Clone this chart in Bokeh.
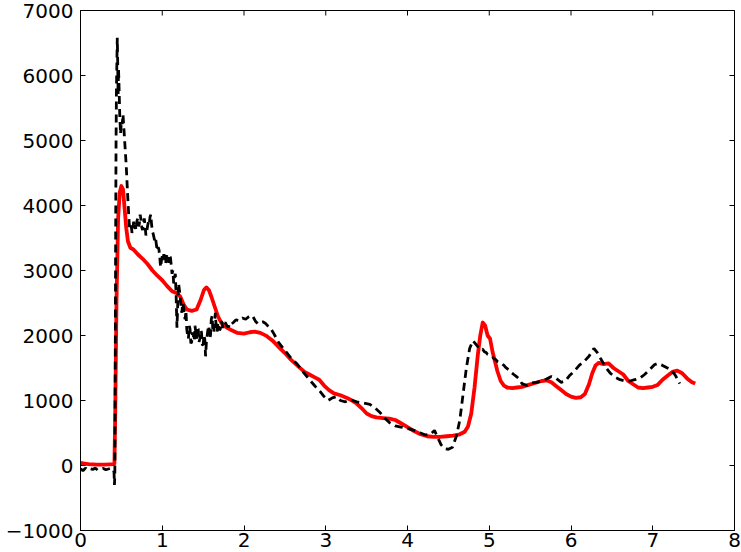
from math import pi
from bokeh.plotting import figure
from bokeh.models import FixedTicker, Range1d
from bokeh.embed import file_html
from bokeh.resources import INLINE

# Red solid series (x, y)
red_x = [0.00, 0.05, 0.10, 0.20, 0.30, 0.40, 0.415, 0.425, 0.44, 0.46, 0.48, 0.50, 0.52, 0.54, 0.56, 0.58,
         0.61, 0.65, 0.70, 0.76, 0.82, 0.88, 0.94, 1.00, 1.06, 1.12, 1.18, 1.22, 1.26, 1.30, 1.36, 1.42,
         1.47, 1.51, 1.54, 1.57, 1.60, 1.64, 1.68, 1.72, 1.78, 1.85, 1.92, 2.00, 2.07, 2.13, 2.20, 2.28,
         2.35, 2.42, 2.50, 2.58, 2.66, 2.74, 2.80, 2.86, 2.92, 2.98, 3.04, 3.10, 3.18, 3.26, 3.32, 3.38,
         3.44, 3.50, 3.56, 3.62, 3.70, 3.78, 3.85, 3.92, 4.00, 4.08, 4.16, 4.24, 4.32, 4.40, 4.48, 4.56,
         4.64, 4.70, 4.74, 4.78, 4.82, 4.86, 4.89, 4.92, 4.95, 4.98, 5.01, 5.04, 5.07, 5.10, 5.14, 5.18,
         5.22, 5.28, 5.34, 5.40, 5.48, 5.56, 5.64, 5.70, 5.76, 5.82, 5.88, 5.94, 6.00, 6.06, 6.12, 6.17,
         6.22, 6.26, 6.30, 6.34, 6.40, 6.46, 6.52, 6.58, 6.64, 6.70, 6.76, 6.82, 6.88, 6.94, 7.00, 7.06,
         7.12, 7.18, 7.24, 7.30, 7.36, 7.42, 7.48, 7.52]
red_y = [40, 30, 20, 15, 15, 20, 30, 800, 2500, 3800, 4200, 4300, 4250, 3950, 3650, 3450,
         3350, 3320, 3250, 3180, 3100, 3000, 2920, 2850, 2760, 2680, 2650, 2600, 2480, 2400, 2380, 2400,
         2550, 2700, 2740, 2700, 2600, 2450, 2300, 2200, 2130, 2080, 2040, 2030, 2050, 2060, 2040, 1990,
         1920, 1830, 1730, 1620, 1530, 1440, 1400, 1360, 1320, 1230, 1160, 1110, 1080, 1040, 1000, 950,
         880, 800, 760, 740, 730, 720, 700, 650, 590, 530, 480, 450, 440, 440, 450, 460,
         480, 520, 600, 800, 1200, 1700, 2000, 2200, 2150, 2000, 1950, 1750, 1600, 1450, 1300, 1230,
         1200, 1190, 1200, 1210, 1240, 1270, 1300, 1310, 1280, 1220, 1160, 1100, 1060, 1040, 1050, 1100,
         1250, 1420, 1540, 1580, 1560, 1570, 1500, 1450, 1400, 1300, 1250, 1200, 1190, 1200, 1210, 1240,
         1320, 1380, 1440, 1460, 1420, 1340, 1280, 1260]

# Black dashed series (x, y)
black_x = [0.00, 0.03, 0.06, 0.09, 0.12, 0.15, 0.18, 0.21, 0.25, 0.28, 0.31, 0.35, 0.38, 0.40, 0.41, 0.415,
           0.42, 0.425, 0.43, 0.435, 0.44, 0.45, 0.455, 0.46, 0.465, 0.47, 0.48, 0.49, 0.50, 0.51, 0.52, 0.53,
           0.545, 0.56, 0.575, 0.59, 0.60, 0.62, 0.63, 0.64, 0.65, 0.66, 0.67, 0.68, 0.69, 0.70, 0.71, 0.72,
           0.73, 0.74, 0.75, 0.76, 0.77, 0.78, 0.79, 0.80, 0.81, 0.82, 0.83, 0.84, 0.85, 0.86, 0.87, 0.88,
           0.89, 0.90, 0.91, 0.92, 0.93, 0.94, 0.95, 0.96, 0.97, 0.98, 0.99, 1.00, 1.01, 1.02, 1.03, 1.04,
           1.05, 1.06, 1.07, 1.08, 1.09, 1.10, 1.11, 1.12, 1.13, 1.14, 1.15, 1.16, 1.17, 1.18, 1.19, 1.20,
           1.21, 1.22, 1.23, 1.24, 1.25, 1.26, 1.27, 1.28, 1.29, 1.30, 1.31, 1.32, 1.33, 1.34, 1.35, 1.36,
           1.37, 1.38, 1.39, 1.40, 1.41, 1.42, 1.43, 1.44, 1.45, 1.46, 1.47, 1.48, 1.49, 1.50, 1.51, 1.52,
           1.53, 1.54, 1.55, 1.56, 1.57, 1.58, 1.59, 1.60, 1.61, 1.62, 1.63, 1.64, 1.65, 1.66, 1.67, 1.68,
           1.69, 1.70, 1.71, 1.72, 1.73, 1.74, 1.75, 1.77, 1.79, 1.81, 1.83, 1.85, 1.87, 1.90, 1.94, 1.98,
           2.02, 2.06, 2.09, 2.11, 2.14, 2.17, 2.20, 2.23, 2.26, 2.29, 2.32, 2.36, 2.42, 2.50, 2.57, 2.65,
           2.73, 2.80, 2.87, 2.93, 2.98, 3.03, 3.08, 3.13, 3.18, 3.24, 3.30, 3.38, 3.46, 3.54, 3.60, 3.66,
           3.72, 3.78, 3.85, 3.92, 4.00, 4.08, 4.16, 4.22, 4.28, 4.33, 4.37, 4.41, 4.45, 4.50, 4.55, 4.60,
           4.64, 4.68, 4.72, 4.76, 4.80, 4.82, 4.84, 4.86, 4.88, 4.90, 4.92, 4.94, 4.96, 4.98, 5.00, 5.02,
           5.04, 5.06, 5.08, 5.10, 5.12, 5.14, 5.16, 5.18, 5.20, 5.22, 5.24, 5.26, 5.28, 5.30, 5.33, 5.36,
           5.40, 5.46, 5.52, 5.58, 5.64, 5.70, 5.76, 5.82, 5.88, 5.93, 5.98, 6.04, 6.10, 6.16, 6.22, 6.28,
           6.32, 6.36, 6.42, 6.48, 6.54, 6.60, 6.66, 6.72, 6.78, 6.84, 6.90, 6.96, 7.02, 7.06, 7.12, 7.18,
           7.24, 7.28, 7.33]
black_y = [-50, -80, -40, -70, -50, -60, -40, -70, -55, -45, -65, -50, -40, -60, -100, -300,
           -150, 1500, 3500, 5000, 5800, 6580, 6200, 5700, 6100, 5900, 5400, 5100, 5300, 5250, 5400, 5200,
           4900, 4600, 4200, 3850, 3650, 3700, 3580, 3620, 3750, 3640, 3700, 3620, 3760, 3800, 3680, 3720,
           3860, 3780, 3660, 3620, 3720, 3800, 3690, 3540, 3600, 3680, 3740, 3700, 3820, 3860, 3700, 3600,
           3560, 3500, 3440, 3480, 3380, 3300, 3360, 3320, 3200, 3050, 3150, 3220, 3180, 3250, 3160, 3100,
           3200, 3260, 3180, 3120, 3220, 3200, 3080, 2950, 3000, 2800, 2900, 2950, 2600, 2120, 2500, 2800,
           2700, 2600, 2450, 2350, 2500, 2450, 2300, 2250, 2380, 2100, 2000, 1950, 2150, 2100, 1880, 1900,
           2050, 2000, 1920, 2150, 2060, 1950, 2120, 2100, 1900, 1950, 2080, 2050, 1860, 1850, 2000, 1950,
           1680, 1900, 2000, 2100, 2150, 1950, 2000, 2250, 2300, 2050, 2050, 2200, 2350, 2100, 2050, 2180,
           2200, 2080, 2100, 2220, 2200, 2120, 2150, 2200, 2150, 2130, 2200, 2180, 2200, 2240, 2230, 2270,
           2250, 2290, 2310, 2290, 2220, 2180, 2200, 2210, 2190, 2150, 2120, 2040, 1900, 1770, 1660, 1560,
           1430, 1320, 1220, 1140, 1060, 1000, 1040, 1060, 1000, 980, 1010, 980, 960, 940, 890, 820,
           730, 660, 610, 590, 570, 540, 500, 470, 480, 540, 430, 320, 260, 250, 280, 460,
           700, 1100, 1500, 1800, 1920, 1890, 1860, 1830, 1820, 1780, 1790, 1750, 1740, 1710, 1700, 1690,
           1670, 1640, 1630, 1600, 1590, 1570, 1560, 1540, 1510, 1490, 1470, 1440, 1420, 1400, 1370, 1340,
           1260, 1230, 1270, 1280, 1300, 1330, 1370, 1340, 1280, 1300, 1380, 1450, 1540, 1600, 1680, 1800,
           1740, 1650, 1520, 1420, 1360, 1320, 1300, 1300, 1320, 1340, 1400, 1470, 1550, 1570, 1540, 1500,
           1450, 1380, 1260]

x_ticks = [0, 1, 2, 3, 4, 5, 6, 7, 8]
y_ticks = [-1000, 0, 1000, 2000, 3000, 4000, 5000, 6000, 7000]
x_lim = [0, 8]
y_lim = [-1000, 7000]

FONT = "DejaVu Sans"
FS = "20px"

p = figure(width=741, height=552, output_backend="svg", toolbar_location=None,
           x_range=Range1d(*x_lim), y_range=Range1d(*y_lim),
           min_border_left=80, min_border_right=7, min_border_top=10, min_border_bottom=22,
           background_fill_color="white", border_fill_color="white")
p.outline_line_color = "black"
p.outline_line_width = 1
p.grid.visible = False

for ax in (p.xaxis[0], p.yaxis[0]):
    ax.major_label_text_font = FONT
    ax.major_label_text_font_size = FS
    ax.major_label_text_color = "black"
    ax.major_tick_in = 5
    ax.major_tick_out = 0
    ax.minor_tick_in = 0
    ax.minor_tick_out = 0
    ax.axis_line_color = "black"
    ax.major_tick_line_color = "black"
p.xaxis[0].ticker = FixedTicker(ticks=x_ticks)
p.yaxis[0].ticker = FixedTicker(ticks=y_ticks)
p.xaxis[0].major_label_standoff = 2
p.yaxis[0].major_label_standoff = 7
p.yaxis[0].major_label_overrides = {t: str(t).replace("-", "\u2212") for t in y_ticks if t < 0}

# inward ticks on top and right frame edges (clipped to the frame -> half shows)
p.scatter(x=x_ticks, y=[y_lim[1]] * len(x_ticks), marker="dash", size=10, angle=pi / 2,
          line_color="black", line_width=1)
p.scatter(x=[x_lim[1]] * len(y_ticks), y=y_ticks, marker="dash", size=10,
          line_color="black", line_width=1)

p.line(red_x, red_y, line_color="red", line_width=3.8, line_join="round")
p.line(black_x, black_y, line_color="black", line_width=2.8, line_dash="8 5")

open("out.html", "w").write(file_html(p, INLINE))
